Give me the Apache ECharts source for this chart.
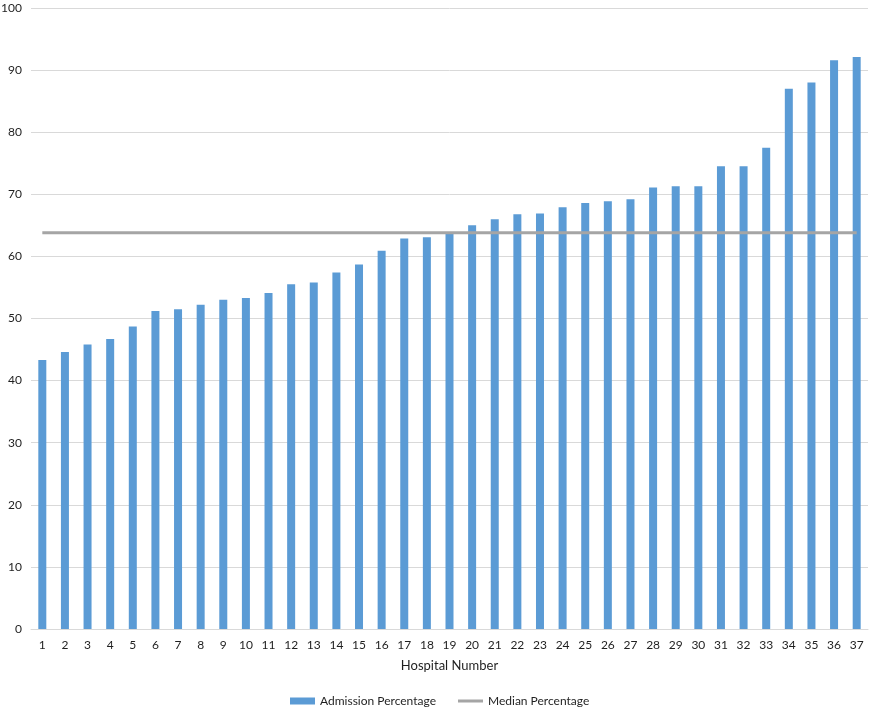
<!DOCTYPE html>
<html>
<head>
<meta charset="utf-8">
<script src="https://cdn.jsdelivr.net/npm/echarts@6/dist/echarts.min.js"></script>
<style>html,body{margin:0;padding:0;background:#fff}#c{width:873px;height:711px}</style>
</head>
<body>
<div id="c"></div>
<script>
const categories = ['1','2','3','4','5','6','7','8','9','10','11','12','13','14','15','16','17','18','19','20','21','22','23','24','25','26','27','28','29','30','31','32','33','34','35','36','37'];
const admission = [43.3,44.6,45.8,46.7,48.7,51.2,51.5,52.2,53.0,53.3,54.1,55.5,55.8,57.4,58.7,60.9,62.9,63.1,63.6,65.0,66.0,66.8,66.9,67.9,68.6,68.9,69.2,71.1,71.3,71.3,74.5,74.5,77.5,87.0,88.0,91.6,92.1];
const medianValue = 63.8;
const median = categories.map(() => medianValue);
const yTicks = { min: 0, max: 100, interval: 10 };

const chart = echarts.init(document.getElementById('c'), null, { renderer: 'canvas' });
const font = 'Lato, "Liberation Sans", sans-serif';
const txt = '#1f1f1f';
chart.setOption({
  animation: false,
  textStyle: { fontFamily: font },
  grid: { left: 31, right: 5, top: 8, bottom: 82, containLabel: false, outerBoundsMode: 'none' },
  legend: [
    {
      top: 690, left: 285, itemWidth: 25, itemHeight: 7, icon: 'rect',
      textStyle: { fontFamily: font, fontSize: 12, color: txt },
      data: ['Admission Percentage']
    },
    {
      top: 690, left: 453, itemWidth: 25, itemHeight: 3, icon: 'rect',
      textStyle: { fontFamily: font, fontSize: 12, color: txt },
      data: ['Median Percentage']
    }
  ],
  xAxis: {
    type: 'category', data: categories, boundaryGap: true,
    name: 'Hospital Number', nameLocation: 'middle', nameGap: 30,
    nameTextStyle: { fontFamily: font, fontSize: 13, color: txt },
    axisLine: { lineStyle: { color: '#d9d9d9', width: 1 } },
    axisTick: { show: false },
    axisLabel: { margin: 10, fontSize: 12, color: txt, fontFamily: font, interval: 0 }
  },
  yAxis: {
    type: 'value', min: yTicks.min, max: yTicks.max, interval: yTicks.interval,
    axisLine: { show: false }, axisTick: { show: false },
    axisLabel: { margin: 9, fontSize: 12, color: txt, fontFamily: font },
    splitLine: { lineStyle: { color: '#d9d9d9', width: 1 } }
  },
  series: [
    { name: 'Admission Percentage', type: 'bar', data: admission, barWidth: 8,
      itemStyle: { color: '#5b9bd5' } },
    { name: 'Median Percentage', type: 'line', data: median, symbol: 'none', showSymbol: false,
      lineStyle: { color: '#a5a5a5', width: 3 }, itemStyle: { color: '#a5a5a5' } }
  ]
});
</script>
</body>
</html>
